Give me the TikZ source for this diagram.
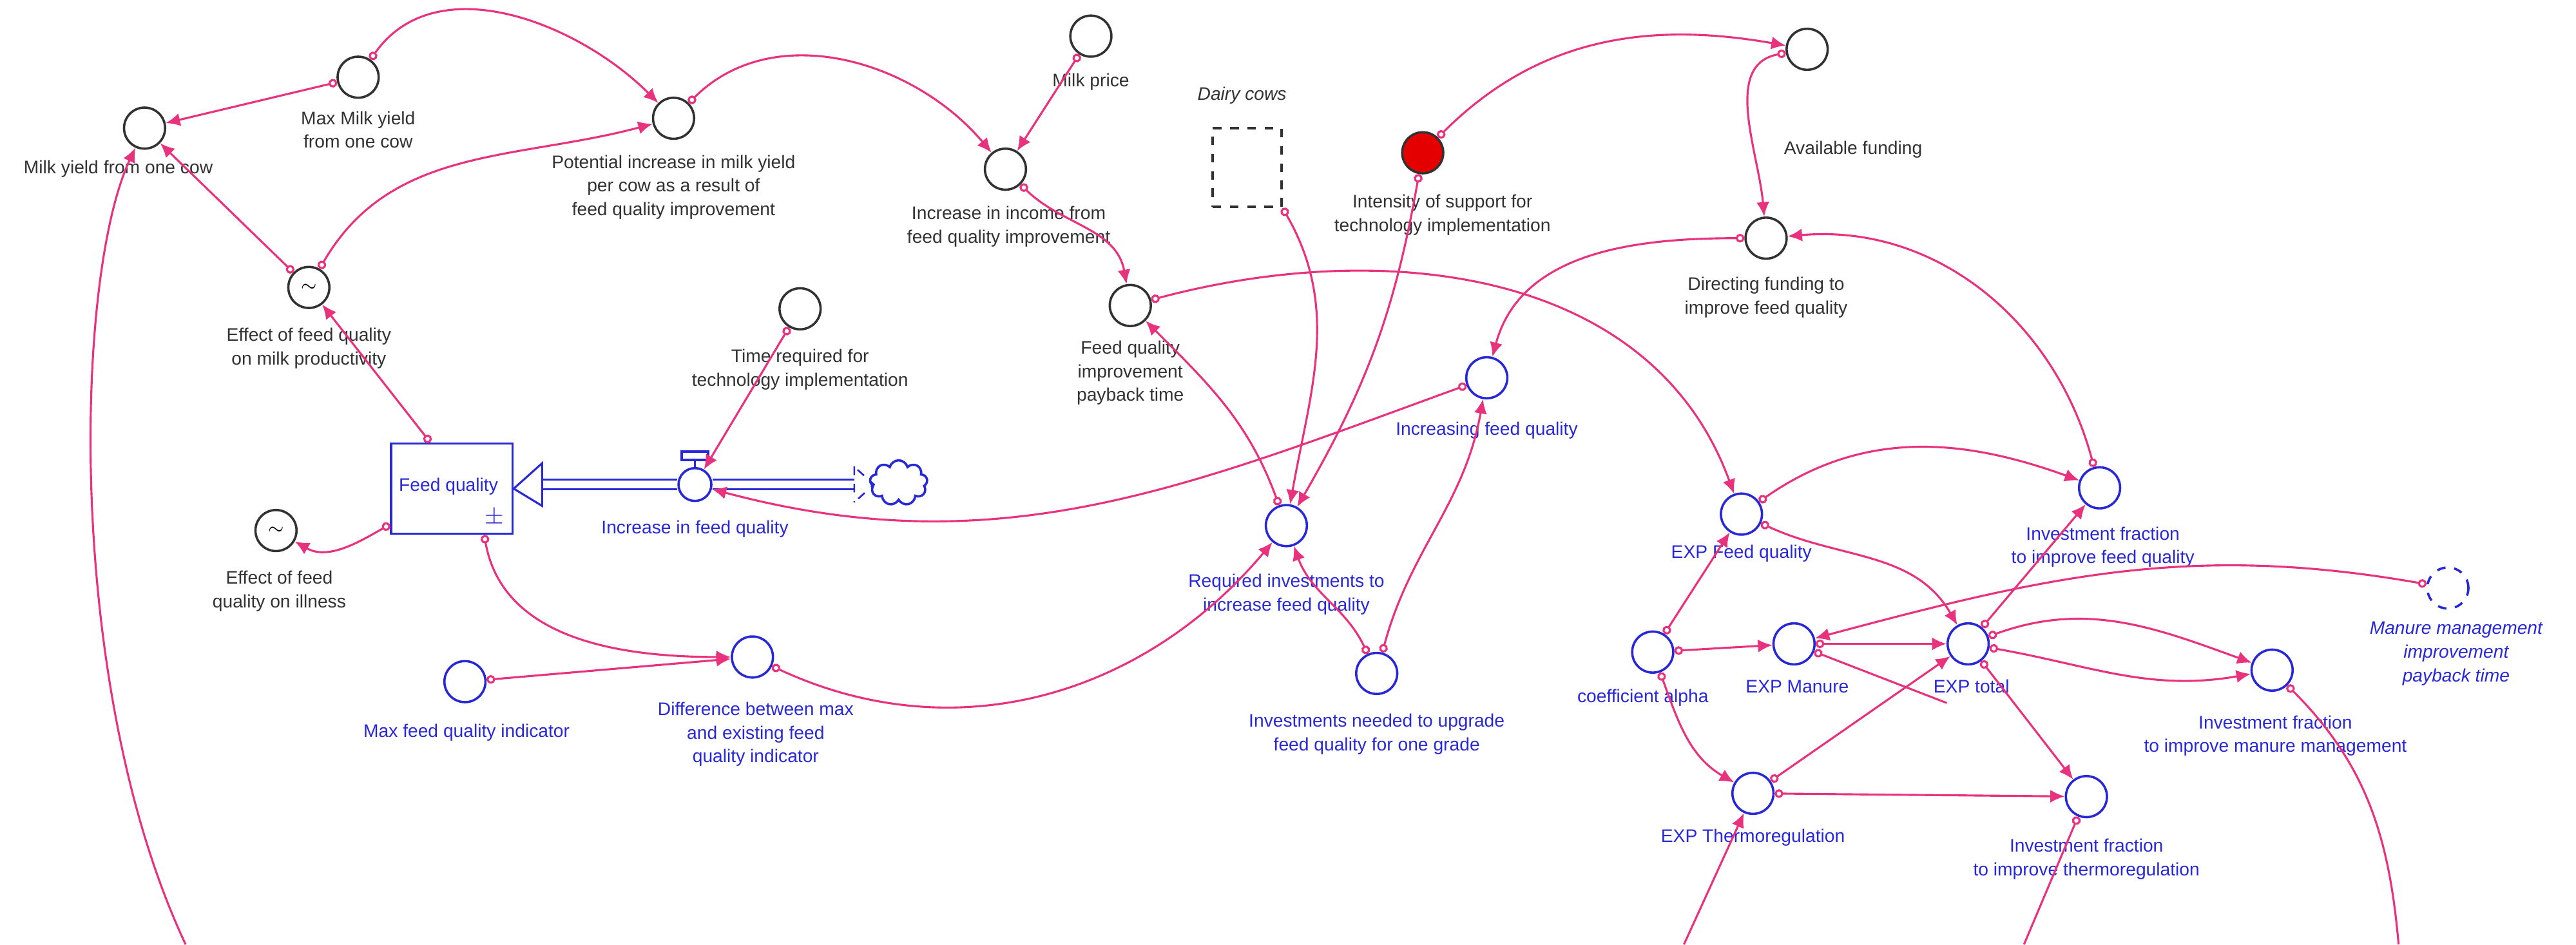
\documentclass[tikz,border=0pt]{standalone}
\usepackage{fontspec}
\setmainfont{Liberation Sans}
\usetikzlibrary{arrows.meta,shapes.symbols,calc}
\definecolor{pk}{RGB}{232,50,125}
\definecolor{bl}{RGB}{40,40,215}
\definecolor{dk}{RGB}{50,50,50}
\begin{document}
\begin{tikzpicture}[x=0.02cm,y=0.02cm,
  every node/.style={font=\fontsize{6.3}{8.2}\selectfont},
  v/.style={circle,draw=dk,line width=0.8pt,minimum size=0.5cm,inner sep=0pt},
  vb/.style={v,draw=bl},
  lb/.style={align=center,text=dk,inner sep=0pt},
  lbb/.style={lb,text=bl},
  lnk/.style={pk,line width=0.7pt,{Circle[open,length=3pt,width=3pt,fill=white]}-{Latex[length=5pt,width=4.5pt]}},
  lnkn/.style={pk,line width=0.7pt,{Circle[open,length=3pt,width=3pt,fill=white]}-},
  lnka/.style={pk,line width=0.7pt,-{Latex[length=5pt,width=4.5pt]}}]
\useasboundingbox (0,0) rectangle (1568,-575);
% nodes
\node[v] (myl) at (88,-78) {};
\node[lb] (mylL) at (72,-103) {Milk yield from one cow};
\node[v] (maxm) at (218,-47) {};
\node[lb] (maxmL) at (218,-79) {Max Milk yield\\from one cow};
\node[v] (pot) at (410,-72) {};
\node[lb] (potL) at (410,-114) {Potential increase in milk yield\\per cow as a result of\\feed quality improvement};
\node[v] (price) at (664,-22) {};
\node[lb] (priceL) at (664,-50) {Milk price};
\node[v] (inc) at (612,-103) {};
\node[lb] (incL) at (614,-138) {Increase in income from\\feed quality improvement};
\node[v] (pay) at (688,-186) {};
\node[lb] (payL) at (688,-227) {Feed quality\\improvement\\payback time};
\node[lb,font=\fontsize{6.3}{8.2}\selectfont\itshape] (dairyL) at (756,-58) {Dairy cows};
\node[draw=dk,dashed,line width=0.8pt,minimum width=0.84cm,minimum height=0.96cm,inner sep=0] (dairy) at (759,-102) {};
\node[v,fill=red!90!black] (inten) at (866,-93) {};
\node[lb] (intenL) at (878,-131) {Intensity of support for\\technology implementation};
\node[v] (avail) at (1100,-30) {};
\node[lb] (availL) at (1128,-91) {Available funding};
\node[v] (dir) at (1075,-145) {};
\node[lb] (dirL) at (1075,-181) {Directing funding to\\improve feed quality};
\node[v] (timereq) at (487,-188) {};
\node[lb] (timereqL) at (487,-225) {Time required for\\technology implementation};
\node[v] (eff) at (188,-175) {$\sim$};
\node[lb] (effL) at (188,-212) {Effect of feed quality\\on milk productivity};
\node[draw=bl,line width=0.8pt,minimum width=1.48cm,minimum height=1.1cm,inner sep=0] (stock) at (275,-297.5) {};
\node[lbb] (stockL) at (273,-296) {Feed quality};
\node[lbb,font=\fontsize{8}{8}\selectfont] (pm) at (301,-315) {$\pm$};
\node[circle,draw=bl,line width=0.8pt,minimum size=0.4cm,inner sep=0,fill=white] (valve) at (423,-295) {};
\node[lbb] (valveL) at (423,-322) {Increase in feed quality};
\node[cloud,draw=bl,line width=0.8pt,cloud puffs=9,minimum width=0.7cm,minimum height=0.55cm,inner sep=0] (cloud) at (547,-294) {};
\node[v] (ill) at (168,-323) {$\sim$};
\node[lb] (illL) at (170,-360) {Effect of feed\\quality on illness};
\node[vb] (maxfq) at (283,-415) {};
\node[lbb] (maxfqL) at (284,-446) {Max feed quality indicator};
\node[vb] (diff) at (458,-400) {};
\node[lbb] (diffL) at (460,-447) {Difference between max\\and existing feed\\quality indicator};
\node[vb] (incq) at (905,-230) {};
\node[lbb] (incqL) at (905,-262) {Increasing feed quality};
\node[vb] (req) at (783,-320) {};
\node[lbb] (reqL) at (783,-362) {Required investments to\\increase feed quality};
\node[vb] (need) at (838,-410) {};
\node[lbb] (needL) at (838,-447) {Investments needed to upgrade\\feed quality for one grade};
\node[vb] (expf) at (1060,-313) {};
\node[lbb] (expfL) at (1060,-337) {EXP Feed quality};
\node[vb] (iff) at (1278,-297) {};
\node[lbb] (iffL) at (1280,-333) {Investment fraction\\to improve feed quality};
\node[vb,dashed] (manp) at (1490,-358) {};
\node[lbb,font=\fontsize{6.3}{8.2}\selectfont\itshape] (manpL) at (1495,-398) {Manure management\\improvement\\payback time};
\node[vb] (alpha) at (1006,-397) {};
\node[lbb] (alphaL) at (1000,-425) {coefficient alpha};
\node[vb] (expm) at (1092,-392) {};
\node[lbb] (expmL) at (1094,-418) {EXP Manure};
\node[vb] (expt) at (1198,-392) {};
\node[lbb] (exptL) at (1200,-418) {EXP total};
\node[vb] (ifm) at (1383,-408) {};
\node[lbb] (ifmL) at (1385,-448) {Investment fraction\\to improve manure management};
\node[vb] (expth) at (1067,-483) {};
\node[lbb] (expthL) at (1067,-510) {EXP Thermoregulation};
\node[vb] (ift) at (1270,-485) {};
\node[lbb] (iftL) at (1270,-523) {Investment fraction\\to improve thermoregulation};
\coordinate (b1) at (113,-575);
\coordinate (b2) at (1025,-575);
\coordinate (b3) at (1232,-575);
\coordinate (b4) at (1460,-575);
\coordinate (mEnd) at (1185,-428);
% flow
\draw[bl,line width=0.7pt] (valve.west) ++(0,3) -- (330,-292) (valve.west) ++(0,-3) -- (330,-298);
\draw[bl,line width=0.7pt] (valve.east) ++(0,3) -- (520,-292) (valve.east) ++(0,-3) -- (520,-298);
\draw[bl,line width=0.7pt,fill=white] (stock.east) -- (330,-282) -- (330,-308) -- cycle;
\draw[bl,line width=0.6pt,dashed] (520,-284) -- (520,-306) (522,-286) -- (532,-295) -- (522,-304);
\draw[bl,line width=0.8pt] (valve.north) -- (423,-280);
\draw[bl,line width=0.8pt,fill=white] (415,-280) rectangle (431,-275);
% links
\draw[lnk] (maxm) -- (myl);
\draw[lnk] (maxm) to[out=55,in=135] (pot);
\draw[lnk] (eff) to[out=60,in=195] (pot);
\draw[lnk] (eff) -- (myl);
\draw[lnk] (stock.115) -- (eff);
\draw[lnk] (price) -- (inc);
\draw[lnk] (pot) to[out=45,in=130] (inc);
\draw[lnk] (inc) to[out=-45,in=100] (pay);
\draw[lnk] (req) to[out=110,in=-45] (pay);
\draw[lnk] (pay) to[out=15,in=110] (expf);
\draw[lnk] (dairy.south east) to[out=-60,in=80] (req);
\draw[lnk] (inten) to[out=-100,in=60] (req);
\draw[lnk] (inten) to[out=45,in=170] (avail);
\draw[lnk] (avail) to[out=190,in=95] (dir);
\draw[lnk] (dir) to[out=180,in=75] (incq);
\draw[lnk] (iff) to[out=105,in=5] (dir);
\draw[lnk] (incq) to[out=200,in=-15] (valve);
\draw[lnk] (need) to[out=75,in=-100] (incq);
\draw[lnk] (need) to[out=115,in=-70] (req);
\draw[lnk] (diff) to[out=-25,in=-130] (req);
\draw[lnk] (maxfq) -- (diff);
\draw[lnk] (stock.-55) to[out=-80,in=180] (diff);
\draw[lnk] (stock.-150) to[out=-150,in=-30] (ill);
\draw[lnk] (timereq) -- (valve);
\draw[lnk] (expf) to[out=35,in=160] (iff);
\draw[lnk] (expf) to[out=-25,in=120] (expt);
\draw[lnk] (alpha) -- (expf);
\draw[lnk] (alpha) -- (expm);
\draw[lnk] (alpha) to[out=-70,in=150] (expth);
\draw[lnk] (expm) -- (expt);
\draw[lnkn] (expm) -- (mEnd);
\draw[lnk] (manp) to[out=170,in=15] (expm);
\draw[lnk] (expt) to[out=20,in=160] (ifm);
\draw[lnk] (expt) to[out=-10,in=190] (ifm);
\draw[lnk] (expt) -- (ift);
\draw[lnk] (expth) -- (ift);
\draw[lnk] (expth) -- (expt);
\draw[lnk] (expt) -- (iff);
\draw[lnka] (b1) .. controls (40,-420) and (45,-170) .. (myl);
\draw[lnka] (b2) -- (expth);
\draw[lnkn] (ift) -- (b3);
\draw[lnkn] (ifm) to[out=-45,in=95] (b4);
\end{tikzpicture}
\end{document}
